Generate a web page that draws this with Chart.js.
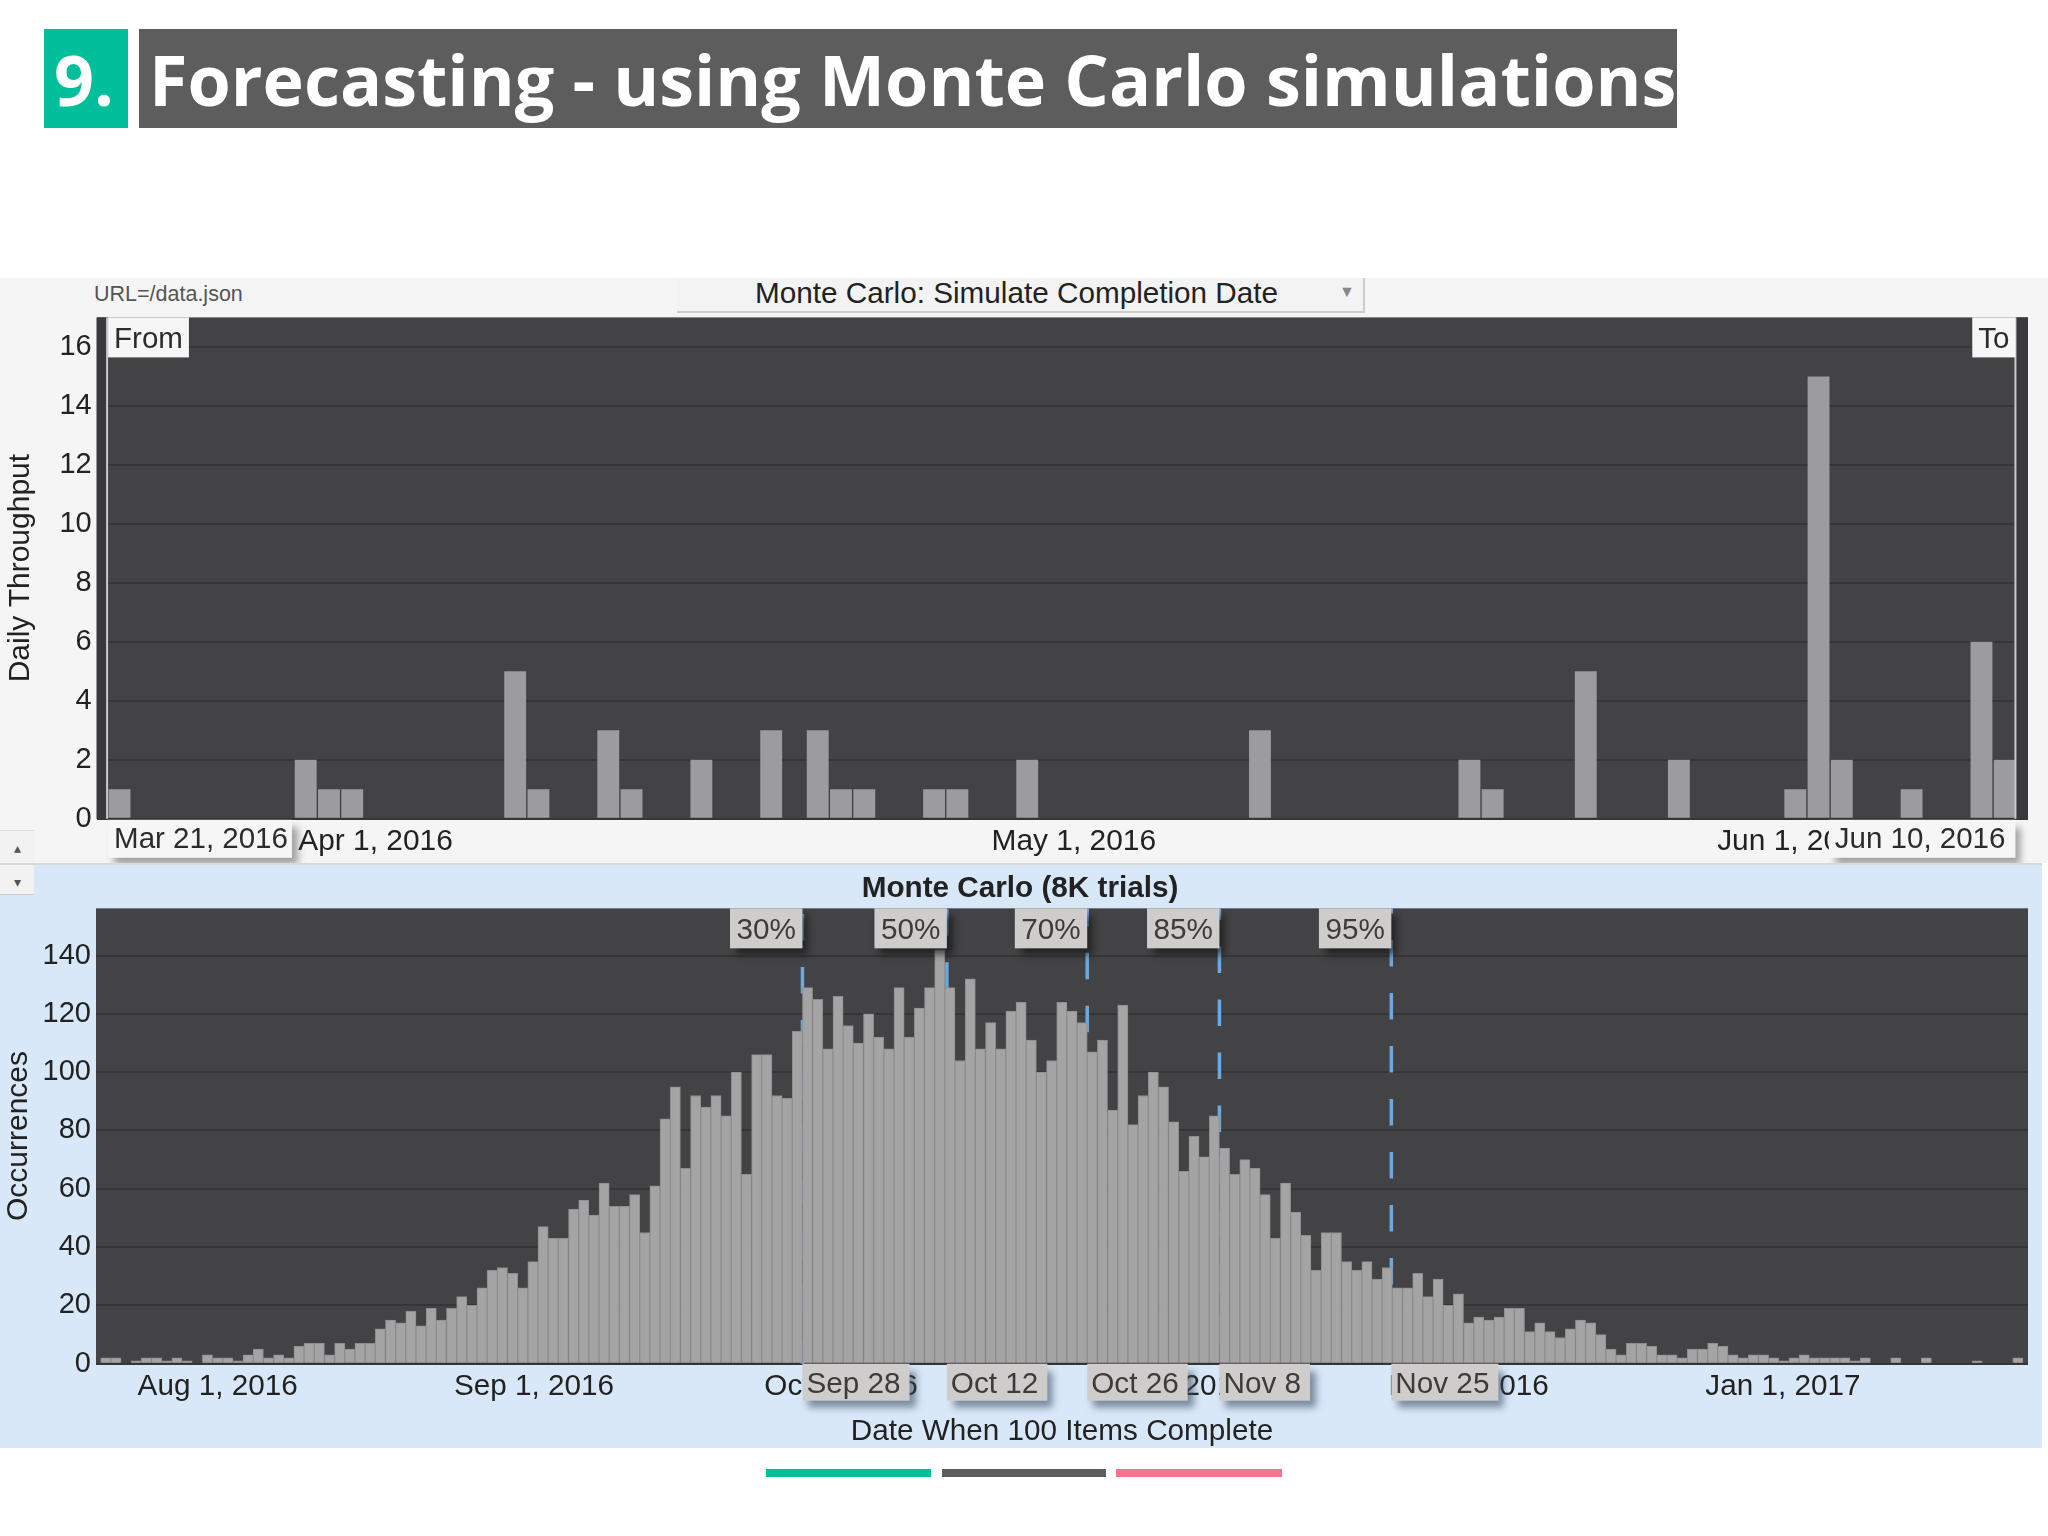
<!DOCTYPE html>
<html>
<head>
<meta charset="utf-8">
<style>
html,body{margin:0;padding:0;background:#fff;}
#page{position:relative;width:2048px;height:1536px;overflow:hidden;background:#fff;font-family:"Liberation Sans",sans-serif;}
.abs{position:absolute;}
.head{font-family:"Open Sans",sans-serif;font-weight:700;color:#fff;white-space:nowrap;line-height:1;font-variant-ligatures:none;}
canvas{position:absolute;display:block;}
</style>
<script src="https://cdn.jsdelivr.net/npm/chart.js@4"></script>
</head>
<body>
<div id="page">
  <div class="abs" style="left:44px;top:29px;width:84px;height:99px;background:#00bf9a;"></div>
  <div class="abs head" style="left:54px;top:44px;font-size:70px;">9.</div>
  <div class="abs" style="left:139px;top:29px;width:1538px;height:99px;background:#5d5d5d;"></div>
  <div class="abs head" id="ttl" style="left:149px;top:44px;font-size:70px;">Forecasting - using Monte Carlo simulations</div>

  <div class="abs" style="left:0;top:278px;width:2048px;height:585px;background:#f5f5f6;"></div>
  <div class="abs" style="left:0;top:863px;width:2042px;height:585px;background:#d9e8f8;"></div>
  <div class="abs" style="left:0;top:863px;width:2042px;height:2px;background:#d8d8d8;"></div>
  <div class="abs" style="left:0;top:830px;width:34px;height:33px;background:#f2f2f2;border-top:1px solid #ddd;box-sizing:border-box;color:#555;font-size:14px;text-align:center;line-height:34px;">▴</div>
  <div class="abs" style="left:0;top:865px;width:34px;height:30px;background:#f2f2f2;border-bottom:1px solid #ccc;box-sizing:border-box;color:#555;font-size:14px;text-align:center;line-height:34px;">▾</div>

  <div class="abs" style="left:94px;top:281px;font-size:21.5px;color:#555;white-space:nowrap;line-height:26px;">URL=/data.json</div>
  <div class="abs" style="left:677px;top:278px;width:688px;height:35px;background:#f3f3f3;border-right:2px solid #ccc;border-bottom:2px solid #ccc;box-sizing:border-box;"></div>
  <div class="abs" style="left:755px;top:276px;font-size:29.7px;color:#222;white-space:nowrap;line-height:34px;">Monte Carlo: Simulate Completion Date</div>
  <div class="abs" style="left:1339px;top:283px;font-size:16px;color:#888;line-height:18px;">▼</div>

  <canvas id="topChart" width="2048" height="585" style="left:0;top:278px;width:2048px;height:585px;"></canvas>
  <canvas id="botChart" width="2040" height="585" style="left:0;top:863px;width:2040px;height:585px;"></canvas>

  <div class="abs" style="left:766px;top:1469px;width:165px;height:8px;background:#00bf9a;"></div>
  <div class="abs" style="left:942px;top:1469px;width:164px;height:8px;background:#5d5d5d;"></div>
  <div class="abs" style="left:1116px;top:1469px;width:166px;height:8px;background:#f7748f;"></div>
</div>
<script>
// ---- Daily Throughput (days counted from Mar 21, 2016) ----
const throughputDays   = [0,8,9,10,17,18,21,22,25,28,30,31,32,35,36,39,49,58,59,63,67,72,73,74,77,80,81];
const throughputValues = [1,2,1,1,5,1,3,1,2,3,3,1,1,1,1,2,3,2,1,5,2,1,15,2,1,6,2];
const throughputTickDays   = [11,41,72];
const throughputTickLabels = ['Apr 1, 2016','May 1, 2016','Jun 1, 2016'];
const rangeDays   = [-0.49,81.46];
const rangeLabels = ['Mar 21, 2016','Jun 10, 2016'];
const rangeEnds   = ['From','To'];

// ---- Monte Carlo histogram (one value per day) ----
const occurrences = [
 2,2,0,1,2,2,1,2,1,0, 3,2,2,1,3,5,2,3,2,6,
 7,7,3,7,5,7,7,12,15,14, 18,13,19,15,19,23,20,26,32,33,
 31,26,35,47,43,43,53,56,51,62, 54,54,58,45,61,84,95,67,92,88,
 92,85,100,65,106,106,92,91,114,129, 125,108,126,116,110,120,112,108,129,112,
 122,129,142,129,104,132,108,117,108,121, 124,111,100,104,124,121,117,107,111,87,
 123,82,92,100,95,83,66,78,71,85, 74,65,70,67,58,43,62,52,44,32,
 45,45,35,32,35,29,33,26,26,31, 23,29,20,24,14,16,15,16,19,19,
 11,14,11,9,12,15,14,10,5,3, 7,7,6,3,3,2,5,5,7,6,
 3,2,3,3,2,1,2,3,2,2, 2,2,1,2,0,0,2,0,0,2,
 0,0,0,0,1,0,0,0,2
];
const occurrenceTickDays   = [11,42.1,72.3,104.6,134,164.9];
const occurrenceTickLabels = ['Aug 1, 2016','Sep 1, 2016','Oct 1, 2016','Nov 1, 2016','Dec 1, 2016','Jan 1, 2017'];
const percentileLabels = ['30%','50%','70%','85%','95%'];
const percentileDays   = [68.5,82.7,96.5,109.5,126.4];
const percentileDates  = ['Sep 28','Oct 12','Oct 26','Nov 8','Nov 25'];

Chart.defaults.font.family = '"Liberation Sans", sans-serif';
Chart.defaults.color = '#222';

const PLOT_BG = '#434244', GRID = '#363537', DARK_TEXT = '#2c2c2c';
const dashPhase = [5.6,1,44.4,38.1,31.6];

function box(ctx, x, y, w, h, fill, shadow, text, textX, textY, size, color){
  ctx.save();
  if (shadow){ ctx.shadowColor = shadow; ctx.shadowBlur = 7; ctx.shadowOffsetX = 6; ctx.shadowOffsetY = 7; }
  ctx.fillStyle = fill; ctx.fillRect(x, y, w, h);
  ctx.restore();
  ctx.save();
  ctx.fillStyle = color; ctx.font = size + 'px "Liberation Sans", sans-serif';
  ctx.textBaseline = 'middle'; ctx.textAlign = 'left';
  ctx.fillText(text, textX, textY);
  ctx.restore();
}

const plotBgPlugin = {
  id:'plotBg',
  beforeDraw(chart){
    const a = chart.chartArea, c = chart.ctx;
    c.save(); c.fillStyle = PLOT_BG; c.fillRect(a.left, a.top, a.width, a.height); c.restore();
  }
};

const rangePlugin = {
  id:'rangeMarks',
  afterDatasetsDraw(chart){
    const a = chart.chartArea, c = chart.ctx, xs = chart.scales.x;
    const x0 = xs.getPixelForValue(rangeDays[0]), x1 = xs.getPixelForValue(rangeDays[1]);
    c.save();
    c.fillStyle = '#3a393b';
    c.fillRect(a.left, a.top, x0 - a.left, a.height);
    c.fillRect(x1, a.top, a.right - x1, a.height);
    c.fillStyle = '#c9c9cb';
    c.fillRect(x0 - 2, a.top, 2, a.height);
    c.fillRect(x1 - 1, a.top, 2, a.height);
    c.restore();
    const pad = 6, size = 29.5, white = '#f6f6f7', sh = 'rgba(60,60,60,0.45)';
    c.font = size + 'px "Liberation Sans", sans-serif';
    const wf = c.measureText(rangeEnds[0]).width + pad*2;
    const wt = c.measureText(rangeEnds[1]).width + pad*2;
    box(c, x0, a.top, wf, 40, white, null, rangeEnds[0], x0 + pad, a.top + 22, size, DARK_TEXT);
    box(c, x1 - wt, a.top, wt, 40, white, null, rangeEnds[1], x1 - wt + pad, a.top + 22, size, DARK_TEXT);
    c.font = size + 'px "Liberation Sans", sans-serif';
    const wa = c.measureText(rangeLabels[0]).width + pad*2 - 2;
    const wb = c.measureText(rangeLabels[1]).width + pad*2 + 4;
    box(c, x0, a.bottom + 1, wa, 38, white, sh, rangeLabels[0], x0 + pad, a.bottom + 21, size, DARK_TEXT);
    box(c, x1 - wb, a.bottom + 1, wb, 38, white, sh, rangeLabels[1], x1 - wb + pad, a.bottom + 21, size, DARK_TEXT);
  }
};

const percentilePlugin = {
  id:'percentiles',
  beforeDatasetsDraw(chart){
    const a = chart.chartArea, c = chart.ctx, xs = chart.scales.x;
    c.save();
    c.strokeStyle = '#6da8df'; c.lineWidth = 3.5; c.setLineDash([26.5,26.5]);
    percentileDays.forEach((d,i)=>{
      const x = xs.getPixelForValue(d);
      c.lineDashOffset = -dashPhase[i];
      c.beginPath(); c.moveTo(x, a.top); c.lineTo(x, a.bottom); c.stroke();
    });
    c.restore();
  },
  afterDatasetsDraw(chart){
    const a = chart.chartArea, c = chart.ctx, xs = chart.scales.x;
    const pad = 6.5, size = 29.7, fill = '#cfcdcc', color = '#3c3c3c';
    percentileDays.forEach((d,i)=>{
      const x = xs.getPixelForValue(d);
      c.font = size + 'px "Liberation Sans", sans-serif';
      const w1 = c.measureText(percentileLabels[i]).width + pad*2;
      const w2 = c.measureText(percentileDates[i]).width + pad*2;
      box(c, x - w1, a.top, w1, 40, fill, 'rgba(15,15,15,0.6)', percentileLabels[i], x - w1 + pad, a.top + 22, size, color);
      box(c, x, a.bottom, w2, 37, fill, 'rgba(60,80,100,0.6)', percentileDates[i], x + 4, a.bottom + 21, size, color);
    });
  }
};

function yScale(maxV, step, title, width, titleTop){
  return {
    min:0, max:maxV,
    afterFit(s){ s.width = width; },
    grid:{color:GRID, lineWidth:2, drawTicks:false},
    border:{display:false},
    ticks:{stepSize:step, includeBounds:false, padding:5, font:{size:29}, color:'#222'},
    title:{display:true, text:title, font:{size:30}, color:'#222', padding:{top:titleTop,bottom:0}}
  };
}
function xScale(minV, maxV, days, labels, height, size, title){
  const cfg = {
    type:'linear', min:minV, max:maxV, offset:false,
    afterFit(s){ s.height = height; },
    afterBuildTicks(s){ s.ticks = days.map(v=>({value:v})); },
    grid:{display:false, drawTicks:false},
    border:{display:false},
    ticks:{
      autoSkip:false, maxRotation:0, minRotation:0, padding:5, font:{size:size}, color:'#222',
      callback(v){ const i = days.indexOf(v); return i < 0 ? '' : labels[i]; }
    }
  };
  if (title) cfg.title = {display:true, text:title, font:{size:29.7}, color:'#222', padding:{top:0,bottom:-1.5}};
  return cfg;
}

new Chart(document.getElementById('topChart'), {
  type:'bar',
  data:{datasets:[{
    label:'Daily Throughput',
    data:throughputDays.map((d,i)=>({x:d,y:throughputValues[i]})),
    backgroundColor:'#9c9b9d', borderWidth:0, barPercentage:0.94, categoryPercentage:1
  }]},
  options:{
    responsive:false, animation:false, devicePixelRatio:1,
    layout:{padding:{top:39.4,right:20,left:0,bottom:0}},
    plugins:{legend:{display:false}, tooltip:{enabled:false}, title:{display:false}},
    scales:{
      x:xScale(-0.98,82,throughputTickDays,throughputTickLabels,44.2,29.9),
      y:yScale(17,2,'Daily Throughput',96.7,3)
    }
  },
  plugins:[plotBgPlugin,rangePlugin]
});

new Chart(document.getElementById('botChart'), {
  type:'bar',
  data:{datasets:[{
    label:'Occurrences',
    data:occurrences.map((v,i)=>({x:i,y:v})),
    backgroundColor:'#a5a4a5', borderColor:'#8e8d8f', borderWidth:{left:1,right:1,top:1,bottom:0},
    barPercentage:1, categoryPercentage:1
  }]},
  options:{
    responsive:false, animation:false, devicePixelRatio:1,
    layout:{padding:{top:0,right:12,left:12,bottom:0}},
    plugins:{
      legend:{display:false}, tooltip:{enabled:false},
      title:{display:true, text:'Monte Carlo (8K trials)', color:'#222', font:{size:29.7,weight:'bold'}, padding:{top:8,bottom:1.7}}
    },
    scales:{
      x:xScale(-0.96,189,occurrenceTickDays,occurrenceTickLabels,84.3,29.7,'Date When 100 Items Complete'),
      y:yScale(156.2,20,'Occurrences',84,-11)
    }
  },
  plugins:[plotBgPlugin,percentilePlugin]
});
</script>
</body>
</html>
